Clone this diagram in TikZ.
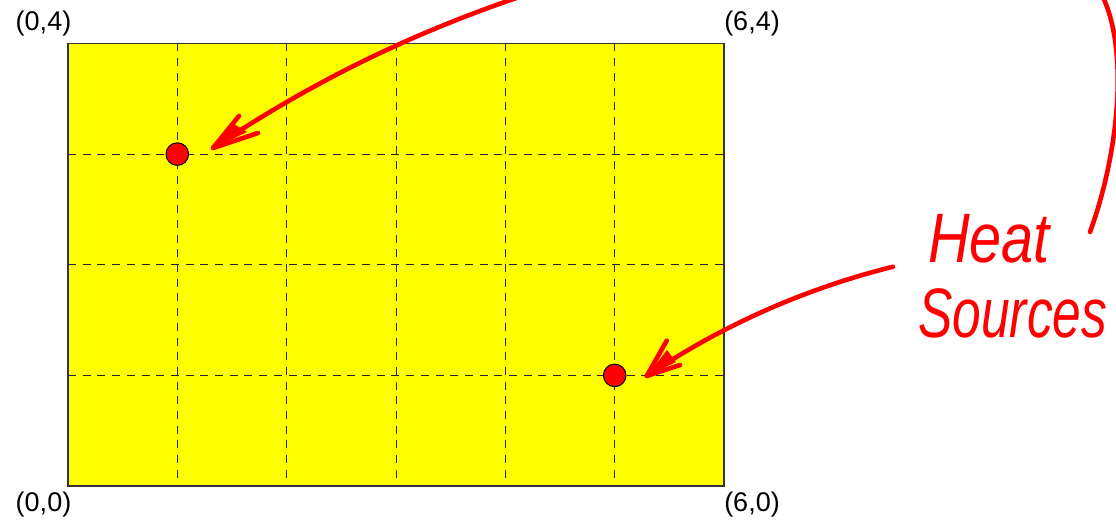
\documentclass[tikz,border=0pt]{standalone}
\usepackage{fontspec}
\setmainfont{Liberation Sans}
\usepackage{graphicx}
\definecolor{pureyellow}{RGB}{255,255,0}
\definecolor{purered}{RGB}{255,0,0}
\begin{document}
\begin{tikzpicture}[x=1pt,y=-1pt,
  gridline/.style={black!85, line width=1pt, dash pattern=on 8pt off 6.7pt},
  corner/.style={font=\fontsize{27}{31}\selectfont, inner sep=0pt},
  source/.style={circle, fill=purered, draw=black, line width=1pt, minimum size=22.6pt, inner sep=0pt},
  ink/.style={purered, line width=4.6pt, line cap=round, line join=round},
  hand/.style={purered, inner sep=0pt, anchor=base west, font=\fontsize{56}{60}\selectfont\itshape}]
\useasboundingbox (0,0) rectangle (1116,524);
\clip (0,0) rectangle (1116,524);
\fill[white] (0,0) rectangle (1116,524);
\draw[fill=pureyellow, draw=black!80, line width=1.3pt] (68,43.5) rectangle (724,486);
\foreach \x in {177.3,286.7,396,505.3,614.7} \draw[gridline] (\x,43.5) -- (\x,486);
\foreach \y in {154.1,264.75,375.4} \draw[gridline] (68,\y) -- (724,\y);
\node[source] (s1) at (177.3,154.1) {};
\node[source] (s2) at (614.7,375.4) {};
\node[corner] (c04) at (43.5,24) {(0,4)};
\node[corner] (c64) at (752,24) {(6,4)};
\node[corner] (c00) at (43.5,505) {(0,0)};
\node[corner] (c60) at (752,505) {(6,0)};
\node[hand] (heat) at (928,262) {\scalebox{1.03}[1.25]{Heat}};
\node[hand] (sources) at (918,337) {\scalebox{0.92}[1.25]{Sources}};
% arrow 1
\coordinate (a1) at (529,-6.3);
\coordinate (t1) at (213,148);
\coordinate (b1a) at (239,116);
\coordinate (b1b) at (258,133);
\draw[ink] (a1) .. controls (410,33.3) and (311,82.7) .. (t1);
\draw[ink] (b1a) -- (t1) -- (b1b);
\fill[purered] (t1) -- (234,124) -- (247,132) -- cycle;
% right arc
\coordinate (r0) at (1090,232);
\coordinate (r1) at (1098,-12);
\draw[ink] (r0) .. controls (1120,150) and (1130,40) .. (r1);
% arrow 2
\coordinate (a2) at (893,266.7);
\coordinate (t2) at (646.7,376);
\coordinate (b2a) at (666.7,340.7);
\coordinate (b2b) at (680,365);
\draw[ink] (a2) .. controls (804.3,288.9) and (722.2,325.3) .. (t2);
\draw[ink] (b2a) -- (t2) -- (b2b);
\fill[purered] (t2) -- (667,350) -- (676,362) -- cycle;
\end{tikzpicture}
\end{document}
